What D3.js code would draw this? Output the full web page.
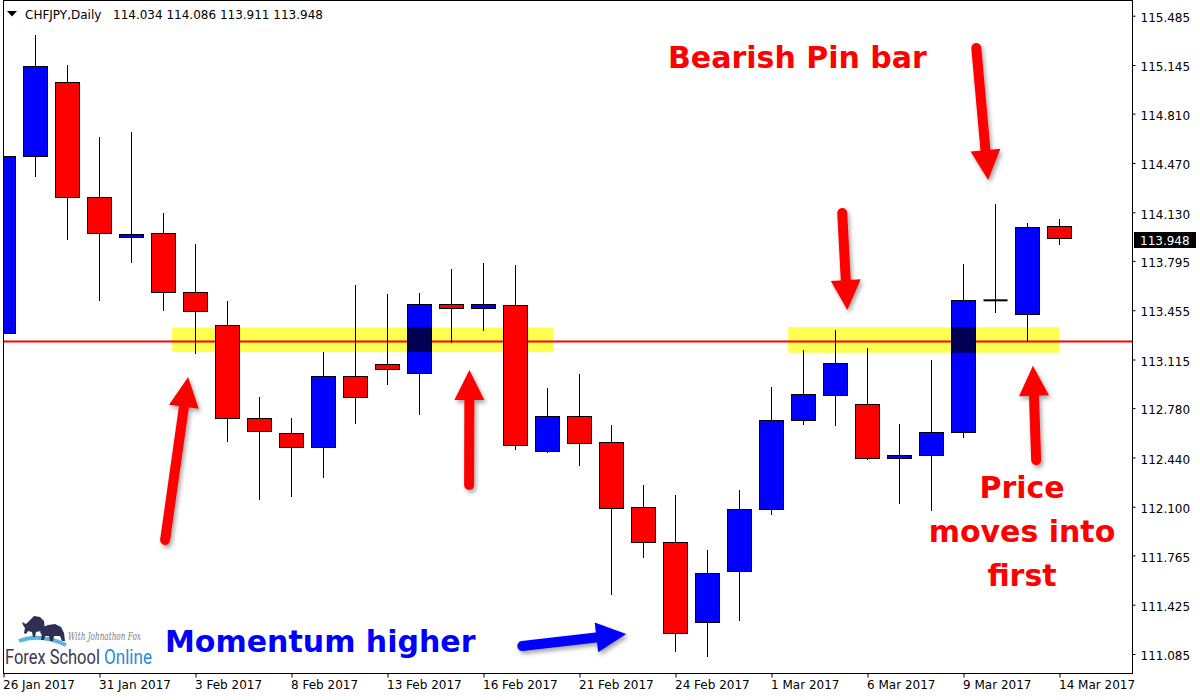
<!DOCTYPE html>
<html><head><meta charset="utf-8">
<script src="https://cdn.jsdelivr.net/npm/d3@7"></script>
<style>html,body{margin:0;padding:0;background:#fff;} svg{display:block;}</style>
</head><body>
<svg id="chart" width="1200" height="700"></svg>
<script>
// ---------------- data ----------------
const symbolLabel = "CHFJPY,Daily";
const dates = ["26 Jan 2017","27 Jan 2017","30 Jan 2017","31 Jan 2017","1 Feb 2017","2 Feb 2017","3 Feb 2017",
  "6 Feb 2017","7 Feb 2017","8 Feb 2017","9 Feb 2017","10 Feb 2017","13 Feb 2017","14 Feb 2017","15 Feb 2017",
  "16 Feb 2017","17 Feb 2017","20 Feb 2017","21 Feb 2017","22 Feb 2017","23 Feb 2017","24 Feb 2017","27 Feb 2017",
  "28 Feb 2017","1 Mar 2017","2 Mar 2017","3 Mar 2017","6 Mar 2017","7 Mar 2017","8 Mar 2017","9 Mar 2017",
  "10 Mar 2017","13 Mar 2017","14 Mar 2017"];
const openP  = [113.296,114.513,115.026,114.233,113.957,113.985,113.578,113.351,112.710,112.602,112.510,112.997,113.082,113.020,113.496,113.468,113.489,112.482,112.724,112.544,112.096,111.855,111.304,111.652,112.082,112.696,112.866,112.806,112.431,112.452,112.613,113.523,113.427,114.034];
const highP  = [114.620,115.352,115.152,114.651,114.690,114.127,113.916,113.525,112.863,112.712,113.167,113.635,113.567,113.578,113.744,113.785,113.773,112.919,113.020,112.670,112.250,112.186,111.802,112.222,112.932,113.181,113.325,113.201,112.677,113.112,113.780,114.187,114.061,114.086];
const lowP   = [113.220,114.375,113.939,113.520,113.782,113.451,113.158,112.548,112.151,112.169,112.300,112.675,112.946,112.737,113.234,113.314,112.496,112.475,112.383,111.494,111.749,111.101,111.066,111.315,112.050,112.664,112.657,112.427,112.124,112.073,112.579,113.438,113.238,113.911];
const closeP = [114.513,115.136,114.230,113.985,113.978,113.578,113.447,112.710,112.617,112.510,112.997,112.855,113.047,113.496,113.468,113.496,112.524,112.724,112.537,112.089,111.855,111.228,111.641,112.082,112.696,112.875,113.089,112.434,112.450,112.613,113.523,113.523,114.026,113.948];
const priceTicks = [115.485,115.145,114.810,114.470,114.130,113.795,113.455,113.115,112.780,112.440,112.100,111.765,111.425,111.085];
const dateTickEvery = 3;
const levelPrice = 113.24;
// zones: [fromIndex, toIndex, highPrice, lowPrice]
const zoneFrom = [5.27, 24.52];
const zoneTo   = [17.18, 32.99];
const zoneHi   = [113.335, 113.338];
const zoneLo   = [113.166, 113.162];
// arrows (tail index, tail price, tip index, tip price)
const arrowTailIdx   = [30.40, 26.21, 32.27, 14.55, 5.05, 16.21];
const arrowTailPrice = [115.262,114.125,112.422,112.250,111.871,111.140];
const arrowTipIdx    = [30.77, 26.37, 32.17, 14.56, 5.77, 19.46];
const arrowTipPrice  = [114.352,113.456,113.072,113.043,112.994,111.223];
const arrowColor     = ["#ff0000","#ff0000","#ff0000","#ff0000","#ff0000","#0000ff"];

// ---------------- layout ----------------
const svg = d3.select("#chart");
const L = 3, R = 1132, T = 0, B = 673;
const x = d3.scaleLinear().domain([0, dates.length - 1]).range([3.5, 3.5 + 32 * (dates.length - 1)]);
const y = d3.scaleLinear().domain([111.085, 115.485]).range([654, 15.7]);
const crisp = v => Math.round(v - 0.5) + 0.5;

const defs = svg.append("defs");
defs.append("clipPath").attr("id","plotclip").append("rect")
  .attr("x", L).attr("y", T).attr("width", R - L).attr("height", B - T);
const f = defs.append("filter").attr("id","shadow").attr("x","-50%").attr("y","-50%").attr("width","200%").attr("height","200%");
f.append("feDropShadow").attr("dx",2).attr("dy",3).attr("stdDeviation",2).attr("flood-color","#000").attr("flood-opacity",0.35);

const plot = svg.append("g").attr("clip-path","url(#plotclip)");

// support line
plot.append("line").attr("x1", L).attr("x2", R)
  .attr("y1", y(levelPrice)).attr("y2", y(levelPrice))
  .attr("stroke","#ff0000").attr("stroke-width",2);

// candles
const idx = d3.range(dates.length);
const cg = plot.append("g");
cg.selectAll("line.wick").data(idx).join("line").attr("class","wick")
  .attr("x1", i => x(i)).attr("x2", i => x(i))
  .attr("y1", i => crisp(y(highP[i]))).attr("y2", i => crisp(y(lowP[i])))
  .attr("stroke","#000").attr("stroke-width",1).attr("shape-rendering","crispEdges");
cg.selectAll("rect.body").data(idx.filter(i => openP[i] !== closeP[i])).join("rect").attr("class","body")
  .attr("x", i => x(i) - 12)
  .attr("y", i => crisp(y(Math.max(openP[i], closeP[i]))))
  .attr("width", 24)
  .attr("height", i => Math.max(1, crisp(y(Math.min(openP[i], closeP[i]))) - crisp(y(Math.max(openP[i], closeP[i])))))
  .attr("fill", i => closeP[i] > openP[i] ? "#0000ff" : "#ff0000")
  .attr("stroke","#000").attr("stroke-width",1).attr("shape-rendering","crispEdges");
cg.selectAll("line.doji").data(idx.filter(i => openP[i] === closeP[i])).join("line").attr("class","doji")
  .attr("x1", i => x(i) - 12).attr("x2", i => x(i) + 12)
  .attr("y1", i => y(openP[i])).attr("y2", i => y(openP[i]))
  .attr("stroke","#000").attr("stroke-width",2);

// zones (multiply blend)
plot.selectAll("rect.zone").data(d3.range(zoneFrom.length)).join("rect").attr("class","zone")
  .attr("x", k => x(zoneFrom[k])).attr("width", k => x(zoneTo[k]) - x(zoneFrom[k]))
  .attr("y", k => y(zoneHi[k])).attr("height", k => y(zoneLo[k]) - y(zoneHi[k]))
  .attr("fill","rgb(255,255,82)").style("mix-blend-mode","multiply");

// border
svg.append("rect").attr("x", L + 0.5).attr("y", T + 0.5).attr("width", R - L).attr("height", B - T)
  .attr("fill","none").attr("stroke","#000").attr("stroke-width",1).attr("shape-rendering","crispEdges");

// right axis
const yAxis = svg.append("g").attr("transform", `translate(${R + 0.5},0)`)
  .call(d3.axisRight(y).tickValues(priceTicks).tickFormat(d3.format(".3f")).tickSize(3).tickPadding(5));
yAxis.select(".domain").remove();
yAxis.selectAll("text").attr("font-family","DejaVu Sans").attr("font-size",12).attr("fill","#000").attr("dy","0.48em");
yAxis.selectAll("line").attr("stroke","#000");

// bottom axis
const xAxis = svg.append("g").attr("transform", `translate(0,${B + 0.5})`)
  .call(d3.axisBottom(x).tickValues(idx.filter(i => i % dateTickEvery === 0)).tickFormat(i => dates[i]).tickSize(4));
xAxis.select(".domain").remove();
xAxis.selectAll("text").attr("font-family","DejaVu Sans").attr("font-size",12).attr("fill","#000")
  .attr("text-anchor","start").attr("x", -1).attr("y", 7).attr("dy","0.71em");
xAxis.selectAll("line").attr("stroke","#000");

// current price label
const last = dates.length - 1;
const yc = y(closeP[last]);
svg.append("rect").attr("x", 1134).attr("y", Math.round(yc) - 7).attr("width", 62).attr("height", 16).attr("fill","#000");
svg.append("text").attr("x", 1140).attr("y", Math.round(yc) + 6).attr("font-family","DejaVu Sans").attr("font-size",12)
  .attr("fill","#fff").text(d3.format(".3f")(closeP[last]));

// header
svg.append("path").attr("d","M7,11 L17,11 L12,16.5 Z").attr("fill","#000");
svg.append("text").attr("x", 25).attr("y", 19).attr("font-family","DejaVu Sans").attr("font-size",12).attr("fill","#000")
  .text(symbolLabel);
svg.append("text").attr("x", 113).attr("y", 19).attr("font-family","DejaVu Sans").attr("font-size",12).attr("fill","#000")
  .text([openP[last], highP[last], lowP[last], closeP[last]].map(d3.format(".3f")).join(" "));

// arrows
const ag = svg.append("g");
d3.range(arrowTailIdx.length).forEach(k => {
  const x0 = x(arrowTailIdx[k]), y0 = y(arrowTailPrice[k]);
  const x1 = x(arrowTipIdx[k]), y1 = y(arrowTipPrice[k]);
  const dx = x1 - x0, dy = y1 - y0, len = Math.hypot(dx, dy);
  const ux = dx / len, uy = dy / len, nx = -uy, ny = ux;
  const hl = 30, hw = 15;
  const bx = x1 - ux * hl, by = y1 - uy * hl;
  const g = ag.append("g").attr("filter","url(#shadow)");
  g.append("line").attr("x1", x0).attr("y1", y0).attr("x2", bx + ux * 2).attr("y2", by + uy * 2)
    .attr("stroke", arrowColor[k]).attr("stroke-width", 10).attr("stroke-linecap","round");
  g.append("path").attr("d", `M${x1},${y1} L${bx + nx * hw},${by + ny * hw} L${bx - nx * hw},${by - ny * hw} Z`)
    .attr("fill", arrowColor[k]);
});

// annotation texts
const bold = "DejaVu Sans";
svg.append("text").attr("x", 668).attr("y", 68).attr("font-family", bold).attr("font-weight","bold")
  .attr("font-size",30).attr("fill","#ff0000").text("Bearish Pin bar");
svg.append("text").attr("x", 165).attr("y", 652).attr("font-family", bold).attr("font-weight","bold")
  .attr("font-size",30).attr("fill","#0000ff").text("Momentum higher");
["Price","moves into","first"].forEach((t, k) => {
  svg.append("text").attr("x", 1022).attr("y", 498 + 44 * k).attr("text-anchor","middle")
    .attr("font-family", bold).attr("font-weight","bold").attr("font-size",30).attr("fill","#ff0000").text(t);
});

// logo
const logo = svg.append("g");
logo.append("path").attr("d","M19,641 Q40,633 66,645").attr("fill","none").attr("stroke","#5ab4e6").attr("stroke-width",4);
logo.append("path").attr("d","M22,622 L26,624 L29,621 L34,616 L40,617 L44,621 L45,630 L44,637 L42,637 L41,631 L36,632 L35,637 L33,637 L32,632 L28,631 L26,634 L24,633 L25,628 L23,625 Z")
  .attr("fill","#2e2f52");
logo.append("path").attr("d","M40,632 L43,627 L48,625 L55,624 L61,627 L64,633 L65,641 L62,641 L60,636 L54,636 L53,641 L50,641 L49,636 L45,636 L44,640 L41,640 L42,635 Z")
  .attr("fill","#2e2f52");
function fitText(g, str, x0, y0, w, size, opts) {
  const t = g.append("text").attr("font-size", size).text(str);
  Object.entries(opts).forEach(([k, v]) => t.attr(k, v));
  const nat = t.node().getComputedTextLength();
  t.attr("transform", `translate(${x0},${y0}) scale(${w / nat},1)`);
  return t;
}
fitText(logo, "With Johnathon Fox", 68, 640, 73, 11, {"font-family":"DejaVu Serif","font-style":"italic","fill":"#7a7a8a"});
fitText(logo, "Forex School", 5, 664, 95, 20, {"font-family":"Roboto","fill":"#3a3a4e"});
fitText(logo, "Online", 104, 664, 48, 20, {"font-family":"Roboto","fill":"#1e8fd6"});
</script>
</body></html>
